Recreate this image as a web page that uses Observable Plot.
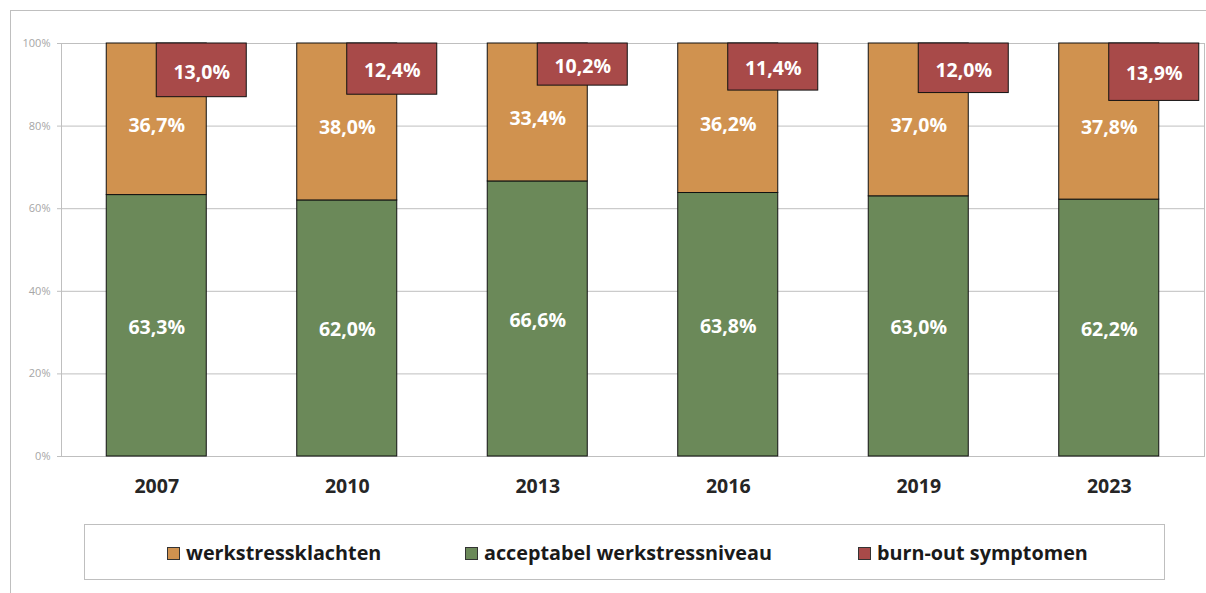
<!DOCTYPE html>
<html>
<head>
<meta charset="utf-8">
<script src="https://cdn.jsdelivr.net/npm/d3@7"></script>
<script src="https://cdn.jsdelivr.net/npm/@observablehq/plot@0.6"></script>
<style>
  html, body { margin: 0; padding: 0; background: #fff; }
  body { width: 1206px; height: 593px; position: relative; overflow: hidden; font-family: "Open Sans", sans-serif; }
  #frame { position: absolute; left: 10px; top: 10px; width: 1300px; height: 700px; border-top: 1px solid #bfbfbf; border-left: 1px solid #bfbfbf; }
  #chart { position: absolute; left: 0; top: 0; }
  #legend { position: absolute; left: 84px; top: 524px; width: 1081px; height: 56px; border: 1px solid #bfbfbf; box-sizing: border-box; background: #fff; }
  .item { position: absolute; top: 0; height: 54px; display: flex; align-items: center; font-weight: 700; font-size: 19.8px; color: #1a1a1a; white-space: nowrap; }
  .sw { width: 11px; height: 11px; border: 1px solid #333; margin-right: 6px; margin-top: 2px; }
</style>
</head>
<body>
<div id="frame"></div>
<div id="chart"></div>
<div id="legend"></div>
<script>
const years = ["2007", "2010", "2013", "2016", "2019", "2023"];
const acceptabel = [63.3, 62.0, 66.6, 63.8, 63.0, 62.2];
const werkstress = [36.7, 38.0, 33.4, 36.2, 37.0, 37.8];
const burnout = [13.0, 12.4, 10.2, 11.4, 12.0, 13.9];
const seriesNames = ["werkstressklachten", "acceptabel werkstressniveau", "burn-out symptomen"];
const colors = ["#D0924F", "#6B8959", "#A84A49"];

const rows = years.map((y, i) => ({
  year: y, acc: acceptabel[i], werk: werkstress[i], burn: burnout[i]
}));
const fmt = v => v.toFixed(1).replace(".", ",") + "%";
const labelStyle = { fill: "white", fontSize: 19.5, fontWeight: 700 };

const chart = Plot.plot({
  width: 1206,
  height: 510,
  marginLeft: 61,
  marginRight: 2,
  marginTop: 43,
  marginBottom: 54,
  style: { fontFamily: "Open Sans, sans-serif", background: "transparent" },
  x: { domain: years, paddingInner: 0.475, paddingOuter: 0.2375, round: false, label: null },
  y: { domain: [0, 100], label: null },
  marks: [
    Plot.gridY([0, 20, 40, 60, 80, 100], { stroke: "#bfbfbf", strokeOpacity: 1 }),
    Plot.frame({ stroke: "#bfbfbf" }),
    Plot.axisY({ ticks: [0, 20, 40, 60, 80, 100], tickFormat: d => d + "%", tickSize: 4, tickPadding: 7, fontSize: 11, stroke: "#bfbfbf", fill: "#a6a6a6", label: null }),
    Plot.axisX({ tickSize: 0, tickPadding: 23, fontSize: 19.5, fontWeight: 700, fill: "#262626", label: null }),
    Plot.barY(rows, { x: "year", y1: 0, y2: "acc", fill: colors[1], stroke: "#111", strokeWidth: 1 }),
    Plot.barY(rows, { x: "year", y1: "acc", y2: d => d.acc + d.werk, fill: colors[0], stroke: "#111", strokeWidth: 1 }),
    Plot.barY(rows, { x: "year", y1: d => 100 - d.burn, y2: 100, fill: colors[2], stroke: "#111", strokeWidth: 1, dx: 50, insetRight: 10 }),
    Plot.text(rows, { x: "year", y: d => d.acc / 2, text: d => fmt(d.acc), ...labelStyle, dy: 1.5 }),
    Plot.text(rows, { x: "year", y: d => d.acc + d.werk / 2, text: d => fmt(d.werk), ...labelStyle, dy: 6 }),
    Plot.text(rows, { x: "year", y: d => 100 - d.burn / 2, text: d => fmt(d.burn), ...labelStyle, dx: 45, dy: 2 })
  ]
});
document.getElementById("chart").appendChild(chart);

const legendPos = [82, 380, 773];
const legend = document.getElementById("legend");
seriesNames.forEach((name, i) => {
  const it = document.createElement("div");
  it.className = "item";
  it.style.left = legendPos[i] + "px";
  const sw = document.createElement("span");
  sw.className = "sw";
  sw.style.background = colors[i];
  it.appendChild(sw);
  it.appendChild(document.createTextNode(name));
  legend.appendChild(it);
});
</script>
</body>
</html>
